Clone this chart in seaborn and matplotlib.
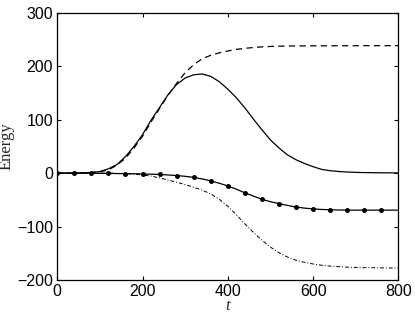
import numpy as np
import pandas as pd
import matplotlib
matplotlib.use("Agg")
import matplotlib.pyplot as plt
import seaborn as sns

# time grid (step 20)
t = list(range(0, 801, 20))

# solid curve: rises, peaks near t=335, returns to zero
e_solid = [0, 0, 0, 0.3, 1, 3, 8, 16, 31, 50, 72, 99, 123, 147, 166, 178, 184, 185.5,
           181, 171, 157, 141, 122, 101, 81, 62, 47, 34, 25, 18, 12, 7, 4.5, 3, 2,
           1.4, 1, 0.8, 0.6, 0.5, 0.4]

# dashed curve: rises to a plateau
e_dashed = [0, 0, 0, 0.3, 1, 2.5, 6, 15, 28, 47, 69, 96, 121, 146, 168, 188, 203, 214,
            220.5, 225, 228.5, 231.5, 233.5, 235, 236.2, 237, 237.5, 237.8, 238, 238, 238.2,
            238.2, 238.3, 238.3, 238.4, 238.4, 238.5, 238.5, 238.5, 238.5, 238.5]

# solid with dots
e_dots = [0, 0, 0, 0, -0.3, -0.5, -0.6, -0.8, -1, -1.2, -1.5, -2, -2.5, -3.5, -4.5, -6,
          -8, -11, -14.5, -19, -24, -30, -37, -43, -49, -53.5, -57, -60.5, -63.5, -65.5,
          -67, -68, -68.6, -69, -69.2, -69.3, -69.3, -69.3, -69.3, -69.3, -69.3]

# dash-dot curve
e_dashdot = [0, 0, 0, 0, 0, 0, 0, -0.5, -1, -2, -3.5, -5.5, -9, -13, -17, -21.5, -26.5, -32,
             -39, -49, -62, -78, -95, -111, -125.5, -138.5, -149, -157, -163, -167, -170,
             -172.5, -174, -175, -176, -176.5, -177, -177, -177.3, -177.5, -177.5]

xticks = [0, 200, 400, 600, 800]
yticks = [-200, -100, 0, 100, 200, 300]

sns.set_style("ticks")
plt.rcParams['font.family'] = ['Liberation Sans', 'DejaVu Sans']
plt.rcParams['axes.unicode_minus'] = True

fig = plt.figure(figsize=(4.15, 3.18), dpi=100)
ax = fig.add_axes([0.138, 0.1195, 0.822, 0.8403])

sns.lineplot(x=t, y=e_dashed, ax=ax, color='k', lw=0.9, linestyle=(0, (5, 3.5)))
sns.lineplot(x=t, y=e_solid, ax=ax, color='k', lw=0.9)
sns.lineplot(x=t, y=e_dots, ax=ax, color='k', lw=0.9, marker='o', markersize=3.6,
             markeredgewidth=0, markevery=slice(0, 40, 2))
sns.lineplot(x=t, y=e_dashdot, ax=ax, color='k', lw=0.7, linestyle=(0, (4, 2, 1, 2)))

ax.set_xlim(0, 800)
ax.set_ylim(-200, 300)
ax.set_xticks(xticks)
ax.set_yticks(yticks)
for s in ax.spines.values():
    s.set_visible(True)
    s.set_linewidth(0.9)
    s.set_color('k')
ax.tick_params(direction='in', length=3, width=0.8, top=True, right=True,
               labelsize=11.5, colors='k')
ax.tick_params(axis='x', pad=3)
ax.tick_params(axis='y', pad=3)

ax.set_xlabel('t', family=['Liberation Serif'], style='italic', fontsize=12)
ax.set_ylabel('Energy', family=['Liberation Serif'], fontsize=12)
ax.xaxis.set_label_coords(0.5, -0.068)
ax.yaxis.set_label_coords(-0.125, 0.5)

fig.savefig('out.png', dpi=100)
